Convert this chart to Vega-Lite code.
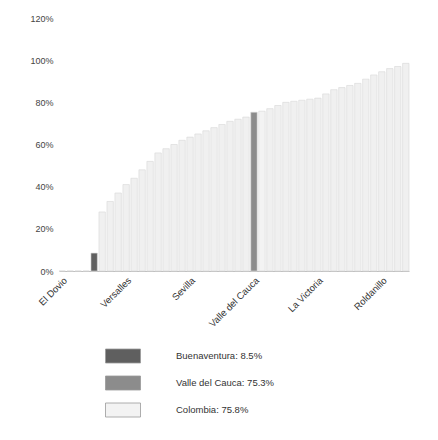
{
  "$schema": "https://vega.github.io/schema/vega-lite/v6.json",
  "autosize": {"type": "none"},
  "width": 350,
  "height": 253,
  "padding": {"left": 59, "top": 18, "right": 29, "bottom": 169},
  "background": "white",
  "config": {"view": {"stroke": null}, "font": "Liberation Sans"},
  "data": {"values": [
    {"m": "El Dovio", "v": 0, "g": "Municipio"},
    {"m": "Argelia", "v": 0, "g": "Municipio"},
    {"m": "El Cairo", "v": 0, "g": "Municipio"},
    {"m": "Ulloa", "v": 0, "g": "Municipio"},
    {"m": "Buenaventura", "v": 0.085, "g": "Buenaventura: 8.5%"},
    {"m": "Dagua", "v": 0.28, "g": "Municipio"},
    {"m": "Calima", "v": 0.33, "g": "Municipio"},
    {"m": "Bolívar", "v": 0.37, "g": "Municipio"},
    {"m": "Versalles", "v": 0.41, "g": "Municipio"},
    {"m": "Trujillo", "v": 0.44, "g": "Municipio"},
    {"m": "El Águila", "v": 0.48, "g": "Municipio"},
    {"m": "Restrepo", "v": 0.52, "g": "Municipio"},
    {"m": "Vijes", "v": 0.56, "g": "Municipio"},
    {"m": "Alcalá", "v": 0.58, "g": "Municipio"},
    {"m": "Ansermanuevo", "v": 0.6, "g": "Municipio"},
    {"m": "Toro", "v": 0.62, "g": "Municipio"},
    {"m": "Sevilla", "v": 0.635, "g": "Municipio"},
    {"m": "Obando", "v": 0.65, "g": "Municipio"},
    {"m": "La Cumbre", "v": 0.665, "g": "Municipio"},
    {"m": "Caicedonia", "v": 0.68, "g": "Municipio"},
    {"m": "Yotoco", "v": 0.695, "g": "Municipio"},
    {"m": "Florida", "v": 0.71, "g": "Municipio"},
    {"m": "Pradera", "v": 0.72, "g": "Municipio"},
    {"m": "San Pedro", "v": 0.73, "g": "Municipio"},
    {"m": "Valle del Cauca", "v": 0.753, "g": "Valle del Cauca: 75.3%"},
    {"m": "Colombia", "v": 0.758, "g": "Colombia: 75.8%"},
    {"m": "Ginebra", "v": 0.77, "g": "Municipio"},
    {"m": "Guacarí", "v": 0.785, "g": "Municipio"},
    {"m": "Andalucía", "v": 0.8, "g": "Municipio"},
    {"m": "Bugalagrande", "v": 0.805, "g": "Municipio"},
    {"m": "El Cerrito", "v": 0.81, "g": "Municipio"},
    {"m": "Candelaria", "v": 0.815, "g": "Municipio"},
    {"m": "La Victoria", "v": 0.82, "g": "Municipio"},
    {"m": "Zarzal", "v": 0.84, "g": "Municipio"},
    {"m": "La Unión", "v": 0.86, "g": "Municipio"},
    {"m": "Jamundí", "v": 0.87, "g": "Municipio"},
    {"m": "Cartago", "v": 0.88, "g": "Municipio"},
    {"m": "Tuluá", "v": 0.89, "g": "Municipio"},
    {"m": "Buga", "v": 0.91, "g": "Municipio"},
    {"m": "Palmira", "v": 0.93, "g": "Municipio"},
    {"m": "Roldanillo", "v": 0.945, "g": "Municipio"},
    {"m": "Yumbo", "v": 0.96, "g": "Municipio"},
    {"m": "Cali", "v": 0.97, "g": "Municipio"},
    {"m": "Riofrío", "v": 0.985, "g": "Municipio"}
  ]},
  "mark": {"type": "bar", "stroke": "#d6d6d6", "strokeWidth": 0.6},
  "encoding": {
    "x": {
      "field": "m", "type": "nominal", "sort": null,
      "scale": {"paddingInner": 0.2, "paddingOuter": 0},
      "axis": {
        "title": null,
        "values": ["El Dovio", "Versalles", "Sevilla", "Valle del Cauca", "La Victoria", "Roldanillo"],
        "labelAngle": -45, "labelFontSize": 9.5, "labelColor": "#333",
        "ticks": false, "domainColor": "#c0c0c0", "labelPadding": 4
      }
    },
    "y": {
      "field": "v", "type": "quantitative",
      "scale": {"domain": [0, 1.2]},
      "axis": {
        "title": null, "values": [0, 0.2, 0.4, 0.6, 0.8, 1, 1.2], "format": ".0%",
        "grid": false, "domain": false, "ticks": false,
        "labelFontSize": 9, "labelColor": "#444", "labelPadding": 6
      }
    },
    "color": {
      "field": "g", "type": "nominal",
      "scale": {
        "domain": ["Buenaventura: 8.5%", "Valle del Cauca: 75.3%", "Colombia: 75.8%", "Municipio"],
        "range": ["#5f5f5f", "#8c8c8c", "#f3f3f3", "#f0f0f0"]
      },
      "legend": {
        "title": null,
        "values": ["Buenaventura: 8.5%", "Valle del Cauca: 75.3%", "Colombia: 75.8%"],
        "orient": "none", "legendX": 46, "legendY": 320,
        "symbolType": "M-1,-0.4H1V0.4H-1Z", "symbolSize": 1225,
        "symbolStrokeColor": "#999", "symbolStrokeWidth": 0.8,
        "labelFontSize": 9.5, "labelColor": "#333", "labelOffset": 35,
        "rowPadding": -5
      }
    }
  }
}
